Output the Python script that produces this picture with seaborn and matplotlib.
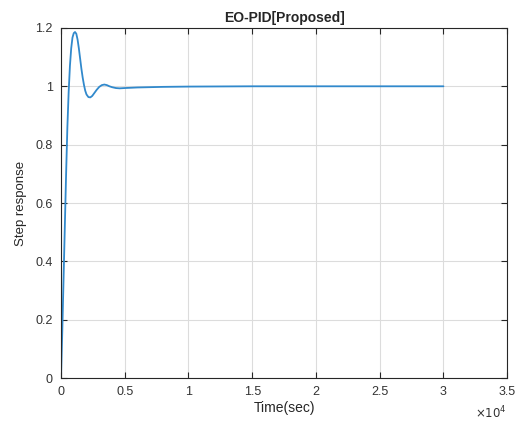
import numpy as np
import matplotlib
matplotlib.use("Agg")
import matplotlib.pyplot as plt
import matplotlib.ticker as mticker
import pandas as pd
import seaborn as sns

# step response (time in sec, response)
time_sec = [0, 100, 200, 300, 400, 500, 600, 700, 800, 900, 1000, 1100, 1200,
            1300, 1400, 1500, 1600, 1700, 1800, 1900, 2000, 2150, 2300, 2450,
            2600, 2800, 3000, 3200, 3400, 3600, 3800, 4000, 4300, 4600, 5000,
            5500, 6000, 7000, 8000, 10000, 15000, 20000, 25000, 30000]
response = [0.0, 0.16, 0.34, 0.52, 0.70, 0.86, 0.98, 1.07, 1.13, 1.167, 1.182,
            1.186, 1.18, 1.16, 1.13, 1.095, 1.06, 1.03, 1.005, 0.985, 0.972,
            0.963, 0.962, 0.967, 0.976, 0.988, 0.998, 1.004, 1.006, 1.004,
            1.0, 0.997, 0.994, 0.993, 0.994, 0.995, 0.996, 0.997, 0.998,
            0.999, 1.0, 1.0, 1.0, 1.0]

df = pd.DataFrame({"t": time_sec, "y": response})

sns.set_theme(style="whitegrid")
plt.rcParams["font.family"] = ["Liberation Sans", "DejaVu Sans"]

fig = plt.figure(figsize=(5.17, 4.23), dpi=100)
ax = fig.add_axes([0.118, 0.106, 0.863, 0.828])

sns.lineplot(data=df, x="t", y="y", ax=ax, color="#3189cc", linewidth=1.3)

ax.set_xlim(0, 35000)
ax.set_ylim(0, 1.2)
ax.set_xticks(np.arange(0, 35001, 5000))
ax.set_yticks([0, 0.2, 0.4, 0.6, 0.8, 1.0, 1.2])
ax.yaxis.set_major_formatter(mticker.FuncFormatter(lambda v, p: "{:g}".format(v)))
ax.xaxis.set_major_formatter(mticker.FuncFormatter(lambda v, p: "{:g}".format(v / 1e4)))
ax.text(1.0, -0.075, r"$\times10^4$", transform=ax.transAxes, ha="right", va="top",
        fontsize=8.5, color="#333333")

ax.set_facecolor("white")
ax.grid(True, color="#dcdcdc", linewidth=0.8)
for s in ax.spines.values():
    s.set_visible(True)
    s.set_color("#262626")
    s.set_linewidth(0.8)
ax.tick_params(direction="in", length=4, width=0.8, color="#262626",
               top=True, right=True, bottom=True, left=True,
               labelsize=9, labelcolor="#333333", pad=6)

ax.set_xlabel("Time(sec)", fontsize=10, color="#262626", labelpad=2)
ax.set_ylabel("Step response", fontsize=9.5, color="#262626", labelpad=6)
ax.set_title("EO-PID[Proposed]", fontsize=10, fontweight="bold", color="#262626", pad=4)

fig.savefig("out.png", dpi=100, facecolor="white")
